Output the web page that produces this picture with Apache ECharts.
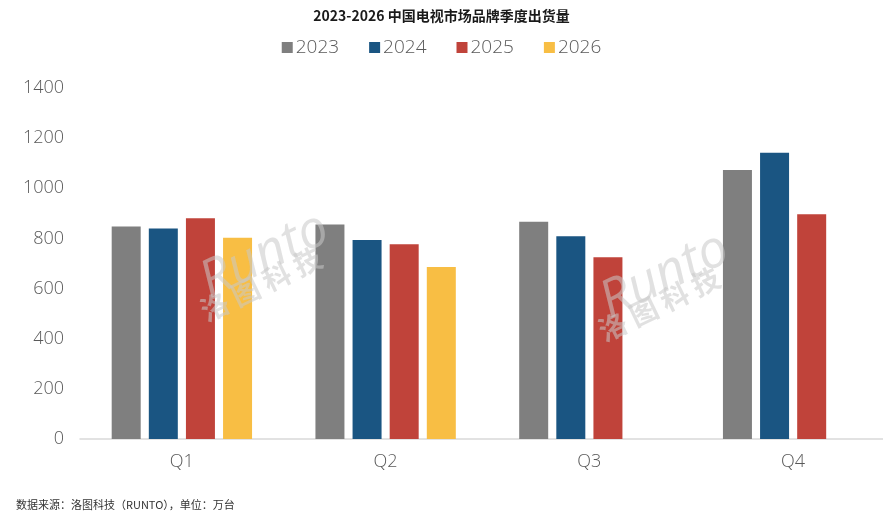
<!DOCTYPE html>
<html>
<head>
<meta charset="utf-8">
<script src="https://cdn.jsdelivr.net/npm/echarts@6/dist/echarts.min.js"></script>
<style>
html,body{margin:0;padding:0;background:#fff;}
#c{width:883px;height:520px;}
</style>
</head>
<body>
<div id="c"></div>
<script>
const categories = ['Q1', 'Q2', 'Q3', 'Q4'];
const seriesNames = ['2023', '2024', '2025', '2026'];
const v2023 = [848, 856, 867, 1073];
const v2024 = [840, 794, 809, 1142];
const v2025 = [880, 777, 725, 896];
const v2026 = [803, 686, null, null];
const yTicks = [0, 1400, 200];

const colors = ['#7f7f7f', '#1a5582', '#c0433a', '#f8be44'];
const values = [v2023, v2024, v2025, v2026];
const numFont = '"Open Sans", "Noto Sans", sans-serif';

const chart = echarts.init(document.getElementById('c'));
chart.setOption({
  animation: false,
  textStyle: { fontFamily: '"Noto Sans CJK SC", "Noto Sans", sans-serif' },
  title: {
    text: '2023-2026 中国电视市场品牌季度出货量',
    left: 'center', top: 4,
    textStyle: { fontSize: 14, fontWeight: 'bold', color: '#1a1a1a', fontFamily: '"Noto Sans CJK SC", sans-serif' }
  },
  legend: {
    data: seriesNames,
    top: 33, left: 'center',
    icon: 'rect', itemWidth: 11, itemHeight: 11, itemGap: 30,
    textStyle: { fontSize: 19, fontWeight: 300, color: '#595959', fontFamily: numFont, padding: [0, 0, 0, -2] }
  },
  grid: { left: 80, width: 815, top: 88, bottom: 81, outerBoundsMode: 'none', containLabel: false },
  xAxis: {
    type: 'category',
    data: categories,
    axisLine: { lineStyle: { color: '#d9d9d9', width: 1.5 } },
    axisTick: { show: false },
    axisLabel: { fontSize: 18, fontWeight: 300, color: '#595959', margin: 14, fontFamily: numFont }
  },
  yAxis: {
    type: 'value',
    min: yTicks[0], max: yTicks[1], interval: yTicks[2],
    splitLine: { show: false },
    axisLine: { show: false },
    axisTick: { show: false },
    axisLabel: { fontSize: 18, fontWeight: 300, color: '#595959', margin: 16, fontFamily: numFont, formatter: v => String(v) }
  },
  series: seriesNames.map((n, i) => ({
    name: n,
    type: 'bar',
    data: values[i],
    barWidth: 29,
    barGap: '28%',
    itemStyle: { color: colors[i] }
  })),
  graphic: [
    {
      type: 'text', left: 16, top: 499,
      style: { text: '数据来源：洛图科技（RUNTO），单位：万台', fontSize: 11, fill: '#333', fontFamily: '"Noto Sans CJK SC", sans-serif' }
    },
    {
      type: 'text', x: 192, y: 262, rotation: 0.45, z: 100,
      style: { text: 'Runto', fontSize: 52, fontStyle: 'italic', fill: 'rgba(200,200,200,0.55)', fontFamily: '"Open Sans", sans-serif' }
    },
    {
      type: 'text', x: 196, y: 300, rotation: 0.45, z: 100,
      style: { text: '洛 图 科 技', fontSize: 28, fontWeight: 'bold', fill: 'rgba(200,200,200,0.55)', fontFamily: '"Noto Sans CJK SC", sans-serif' }
    },
    {
      type: 'text', x: 592, y: 282, rotation: 0.45, z: 100,
      style: { text: 'Runto', fontSize: 52, fontStyle: 'italic', fill: 'rgba(200,200,200,0.55)', fontFamily: '"Open Sans", sans-serif' }
    },
    {
      type: 'text', x: 594, y: 320, rotation: 0.45, z: 100,
      style: { text: '洛 图 科 技', fontSize: 28, fontWeight: 'bold', fill: 'rgba(200,200,200,0.55)', fontFamily: '"Noto Sans CJK SC", sans-serif' }
    }
  ]
});
</script>
</body>
</html>
